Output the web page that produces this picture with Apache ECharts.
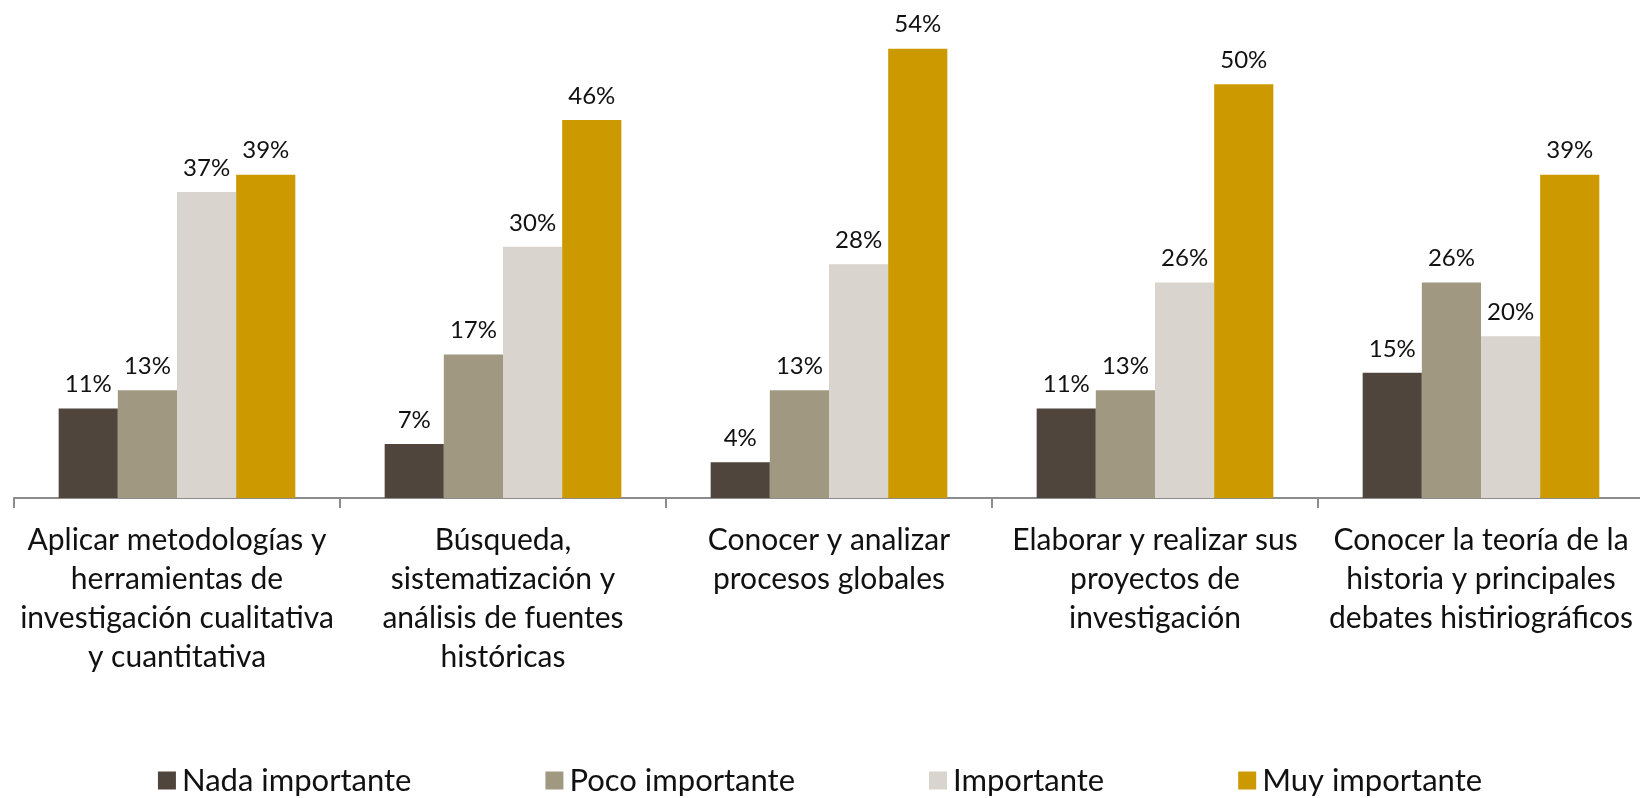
<!DOCTYPE html>
<html>
<head>
<meta charset="utf-8">
<script src="https://cdn.jsdelivr.net/npm/echarts@6/dist/echarts.min.js"></script>
<style>
html,body{margin:0;padding:0;background:#fff;}
#chart{width:1640px;height:798px;}
</style>
</head>
<body>
<div id="chart"></div>
<script>
const categories = [
  "Aplicar metodologías y\nherramientas de\ninvestigación cualitativa\ny cuantitativa",
  "Búsqueda,\nsistematización y\nanálisis de fuentes\nhistóricas",
  "Conocer y analizar\nprocesos globales",
  "Elaborar y realizar sus\nproyectos de\ninvestigación",
  "Conocer la teoría de la\nhistoria y principales\ndebates histiriográficos"
];
const seriesNames = ["Nada importante", "Poco importante", "Importante", "Muy importante"];
// percentages (bar heights; labels shown rounded)
const nada = [10.8, 6.5, 4.3, 10.8, 15.1];
const poco = [13.0, 17.3, 13.0, 13.0, 26.0];
const importante = [36.9, 30.3, 28.2, 26.0, 19.5];
const muy = [39.0, 45.6, 54.2, 49.9, 39.0];
const colors = ["#4f453c", "#a09880", "#d9d5ce", "#cc9a00"];

const FONT = "Lato";
const chart = echarts.init(document.getElementById('chart'), null, {renderer: 'canvas'});
const values = [nada, poco, importante, muy];
chart.setOption({
  animation: false,
  color: colors,
  textStyle: {fontFamily: FONT},
  grid: {left: 14, right: -4, top: 42, bottom: 300, containLabel: false, outerBoundsMode: 'none'},
  legend: {
    data: seriesNames,
    top: 765,
    left: 'center',
    padding: [0, 0, 0, 31],
    itemWidth: 18,
    itemHeight: 18,
    itemGap: 134,
    icon: 'rect',
    textStyle: {fontFamily: FONT, fontSize: 31, lineHeight: 30, color: '#111', padding: [0, 0, 0, 1]}
  },
  xAxis: {
    type: 'category',
    data: categories,
    axisLine: {lineStyle: {color: '#8c8c8c', width: 2}},
    axisTick: {show: true, length: 10, lineStyle: {color: '#8c8c8c', width: 2}},
    axisLabel: {
      interval: 0,
      margin: 23,
      fontFamily: FONT,
      fontSize: 30,
      lineHeight: 39,
      color: '#111',
      align: 'center'
    }
  },
  yAxis: {
    type: 'value',
    min: 0,
    max: 55,
    show: false,
    splitLine: {show: false}
  },
  series: values.map((arr, i) => ({
    name: seriesNames[i],
    type: 'bar',
    data: arr,
    barGap: '0%',
    barCategoryGap: '27.4%',
    itemStyle: {color: colors[i]},
    label: {
      show: true,
      position: 'top',
      distance: 12,
      fontFamily: FONT,
      fontSize: 24,
      color: '#111',
      formatter: p => Math.round(p.value) + '%'
    }
  }))
});
</script>
</body>
</html>
